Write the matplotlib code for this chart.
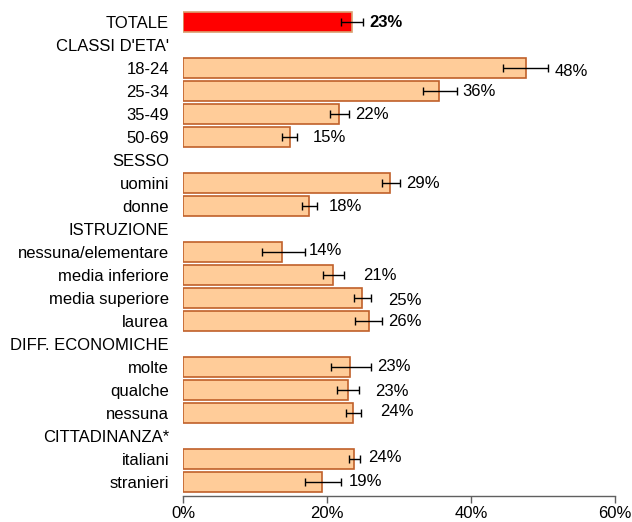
import matplotlib
matplotlib.use("Agg")
import matplotlib.pyplot as plt
import numpy as np

plt.rcParams['font.family'] = ['Liberation Sans', 'DejaVu Sans']

# ---- data ----
labels = ["TOTALE", "CLASSI D'ETA'", "18-24", "25-34", "35-49", "50-69",
          "SESSO", "uomini", "donne", "ISTRUZIONE", "nessuna/elementare",
          "media inferiore", "media superiore", "laurea", "DIFF. ECONOMICHE",
          "molte", "qualche", "nessuna", "CITTADINANZA*", "italiani", "stranieri"]
# None = section heading (no bar)
values = [23.5, None, 47.6, 35.6, 21.6, 14.8,
          None, 28.8, 17.5, None, 13.7,
          20.8, 24.9, 25.8, None,
          23.2, 22.9, 23.6, None, 23.8, 19.3]
ci_low = [22.0, None, 44.5, 33.4, 20.4, 13.7,
          None, 27.6, 16.5, None, 11.0,
          19.4, 23.7, 23.9, None,
          20.5, 21.4, 22.7, None, 23.0, 17.0]
ci_high = [25.0, None, 50.7, 38.0, 23.0, 15.9,
           None, 30.1, 18.6, None, 16.9,
           22.3, 26.1, 27.6, None,
           26.1, 24.4, 24.7, None, 24.6, 21.9]
value_text = ["23%", None, "48%", "36%", "22%", "15%",
              None, "29%", "18%", None, "14%",
              "21%", "25%", "26%", None,
              "23%", "23%", "24%", None, "24%", "19%"]
label_gap_px = [6, 0, 7, 6, 7, 15, 0, 6, 12, 0, 4, 20, 17, 6, 0, 6, 16, 19, 0, 8, 8]
label_dy_px = [0, 0, -3, 0, 0, 0, 0, 0, 0, 0, 2, 0, -2, 0, 0, 1, -1, 2, 0, 2, 1]
x_ticks = [0, 20, 40, 60]
x_ticklabels = ["0%", "20%", "40%", "60%"]

W, H = 632, 522
fig = plt.figure(figsize=(W / 100, H / 100), dpi=100)
ax = fig.add_axes([183 / W, 1 - 496 / H, (615 - 183) / W, 496 / H])

fs = 12
for i, (lab, v) in enumerate(zip(labels, values)):
    if v is None:
        continue
    total = (i == 0)
    ax.barh(i, v, height=0.85,
            color="#FF0000" if total else "#FFCC99",
            edgecolor="#D9A070" if total else "#C0602A",
            linewidth=1.2)
    ax.errorbar(v, i, xerr=[[v - ci_low[i]], [ci_high[i] - v]], fmt='none',
                ecolor='black', elinewidth=1.0, capsize=3, capthick=1.0)
    ax.annotate(value_text[i], xy=(ci_high[i], i),
                xytext=(label_gap_px[i] * 0.72, label_dy_px[i] * 0.72),
                textcoords='offset points', va='center', ha='left',
                fontsize=fs, fontweight='bold' if total else 'normal', color='black')

ax.set_ylim(20.6, -0.965)
ax.set_xlim(0, 60)
ax.set_yticks(range(len(labels)))
ax.set_yticklabels(labels, fontsize=fs)
ax.tick_params(axis='y', length=0, pad=10)
ax.set_xticks(x_ticks)
ax.set_xticklabels(x_ticklabels, fontsize=fs)
ax.tick_params(axis='x', length=5, width=1, color='#606060', pad=2.5)
for s in ['top', 'right', 'left']:
    ax.spines[s].set_visible(False)
ax.spines['bottom'].set_color('#606060')
ax.spines['bottom'].set_linewidth(1)

fig.savefig("out.png", dpi=100)
